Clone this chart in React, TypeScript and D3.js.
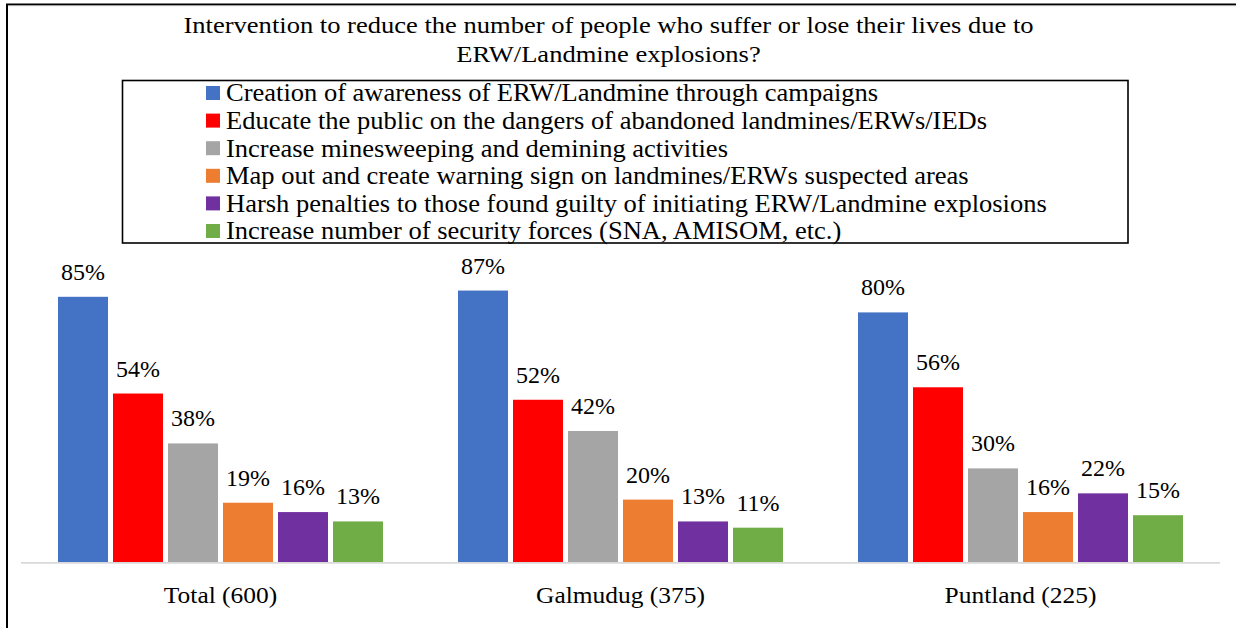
import React from "react";
import * as d3 from "d3";

const categories = ["Total (600)", "Galmudug (375)", "Puntland (225)"];
const seriesNames = [
  "Creation of awareness of ERW/Landmine through campaigns",
  "Educate the public on the dangers of abandoned landmines/ERWs/IEDs",
  "Increase minesweeping and demining activities",
  "Map out and create warning sign on landmines/ERWs suspected areas",
  "Harsh penalties to those found guilty of initiating ERW/Landmine explosions",
  "Increase number of security forces (SNA, AMISOM, etc.)",
];
const seriesColors = ["#4472C4", "#FF0000", "#A5A5A5", "#ED7D31", "#7030A0", "#70AD47"];
const totalValues = [85, 54, 38, 19, 16, 13];
const galmudugValues = [87, 52, 42, 20, 13, 11];
const puntlandValues = [80, 56, 30, 16, 22, 15];
const valuesByCategory = [totalValues, galmudugValues, puntlandValues];
const titleLines = [
  "Intervention to reduce the number of people who suffer or lose their lives due to",
  "ERW/Landmine explosions?",
];

const W = 1236;
const H = 628;
const FONT = '"Liberation Serif", "Times New Roman", Times, serif';
const txt = { fontFamily: FONT } as React.CSSProperties;

export default function App() {
  const x0 = d3.scaleBand<string>().domain(categories).range([20.5, 1220.5]).paddingInner(0).paddingOuter(0);
  const bw = x0.bandwidth();
  const x1 = d3
    .scaleBand<number>()
    .domain(d3.range(seriesNames.length))
    .range([37.5, bw - 37.5])
    .paddingInner(5 / 55)
    .paddingOuter(0);
  const y = d3.scaleLinear().domain([0, 100]).range([562, 250]);

  const legendX = 206;
  const legendY0 = 93;
  const legendStep = 27.6;

  return (
    <svg
      width={W}
      height={H}
      style={{ position: "absolute", left: 0, top: 0, background: "#fff", fontFamily: FONT }}
    >
      <rect x={0} y={0} width={W} height={H} fill="#fff" />
      {/* border */}
      <line x1={6} x2={W} y1={4.3} y2={4.3} stroke="#000" strokeWidth={1.6} />
      <line x1={6} x2={W} y1={5.6} y2={5.6} stroke="#999" strokeWidth={1} />
      <line x1={7} x2={7} y1={4} y2={H} stroke="#000" strokeWidth={2} />

      {/* title */}
      {titleLines.map((t, i) => (
        <text
          key={i}
          transform={`translate(608.5,${33 + i * 29}) scale(1.13,1)`}
          fontSize={23.5}
          textAnchor="middle"
          fill="#000"
          style={txt}
        >
          {t}
        </text>
      ))}

      {/* legend */}
      <rect x={122.5} y={80.5} width={1005.5} height={162.5} fill="none" stroke="#000" strokeWidth={1.6} />
      {seriesNames.map((s, i) => (
        <g key={s}>
          <rect x={legendX} y={legendY0 + i * legendStep - 7} width={14} height={14} fill={seriesColors[i]} />
          <text
            transform={`translate(${legendX + 20},${legendY0 + i * legendStep + 8.3}) scale(1.04,1)`}
            fontSize={25.5}
            fill="#000"
            style={txt}
          >
            {s}
          </text>
        </g>
      ))}

      {/* bars */}
      {categories.map((c, ci) => (
        <g key={c} transform={`translate(${x0(c)},0)`}>
          {valuesByCategory[ci].map((v, si) => (
            <g key={si}>
              <rect
                x={x1(si)}
                y={y(v)}
                width={x1.bandwidth()}
                height={y(0) - y(v)}
                fill={seriesColors[si]}
              />
              <text
                x={(x1(si) as number) + x1.bandwidth() / 2}
                y={y(v) - 17}
                fontSize={24}
                textAnchor="middle"
                fill="#000"
                style={txt}
              >
                {v}%
              </text>
            </g>
          ))}
          <text
            transform={`translate(${bw / 2},603) scale(1.06,1)`}
            fontSize={24}
            textAnchor="middle"
            fill="#000"
            style={txt}
          >
            {c}
          </text>
        </g>
      ))}

      {/* axis baseline */}
      <line x1={21} x2={1220} y1={y(0) + 0.8} y2={y(0) + 0.8} stroke="#D9D9D9" strokeWidth={1.8} />
    </svg>
  );
}
